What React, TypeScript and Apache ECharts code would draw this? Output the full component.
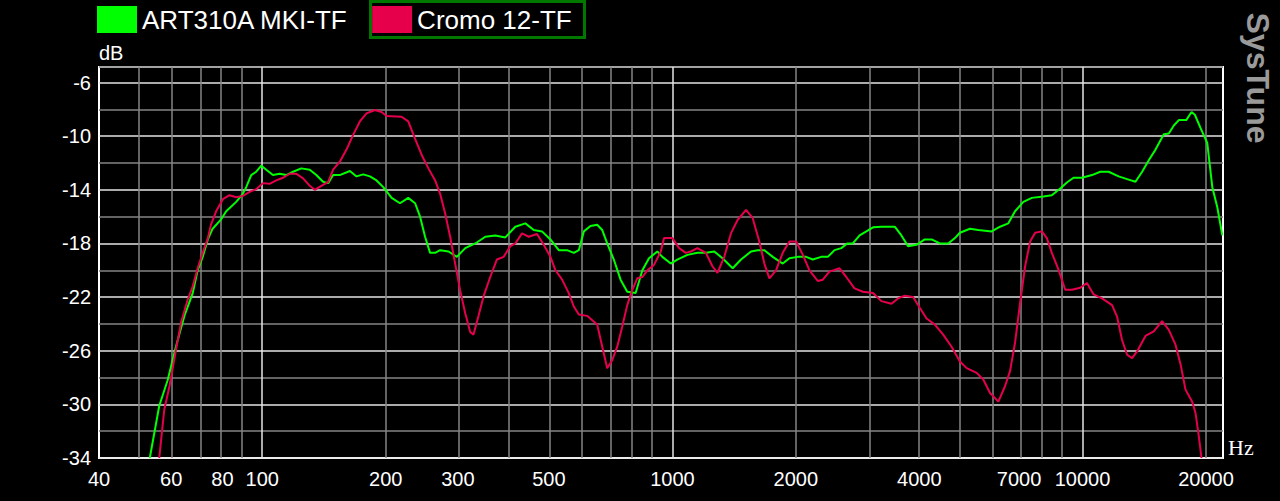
import React, { useEffect, useRef } from "react";
import * as echarts from "echarts";

const SERIES_NAMES = ["ART310A MKI-TF", "Cromo 12-TF"];
const SERIES_COLORS = ["#00ff00", "#e6004c"];

const X_TICK_LABELS = [40, 60, 80, 100, 200, 300, 500, 1000, 2000, 4000, 7000, 10000, 20000];
const MAJOR_GRID_FREQS = [100, 1000, 10000];
const MINOR_GRID_FREQS = [
  50, 60, 70, 80, 90, 200, 300, 400, 500, 600, 700, 800, 900,
  2000, 3000, 4000, 5000, 6000, 7000, 8000, 9000, 20000,
];
const Y_TICK_LABELS = [-34, -30, -26, -22, -18, -14, -10, -6];
const X_MIN_HZ = 40;
const X_MAX_HZ = 22000;
const Y_MIN_DB = -34;
const Y_MAX_DB = -4.84;

const ART_FREQ = [
  53.2, 56.1, 58.8, 61.6, 64.6, 67.7, 69.6, 71.6, 73.7, 75.7, 79.4, 81.7, 86.4, 89.7, 91.4, 94,
  96.7, 99.5, 102.3, 106.2, 110.3, 114.5, 118.9, 124.5, 130.6, 135.5, 140.7, 144.8, 148.9, 154.5,
  163.6, 169.8, 176.3, 183, 190, 197.3, 206.8, 216.7, 227, 235.9, 242.6, 249.5, 256.6, 264, 271.5,
  284.6, 298.2, 312.6, 330.6, 349.9, 369.9, 391.5, 414, 438.1, 459.2, 481, 504.3, 528.4, 553.5,
  575, 591.4, 608.3, 631.5, 655.6, 674.6, 693.5, 719.8, 747.6, 776.2, 813.6, 844.9, 877, 918.9,
  945.3, 991, 1028, 1088, 1151, 1207, 1265, 1325, 1403, 1470, 1555, 1614, 1676, 1757, 1858, 1929,
  2021, 2119, 2199, 2306, 2393, 2485, 2581, 2669, 2754, 2861, 2971, 3084, 3232, 3484, 3617, 3754,
  3936, 4125, 4284, 4488, 4705, 4884, 5023, 5316, 5569, 6003, 6293, 6592, 6846, 7173, 7521, 8027,
  8415, 8822, 9158, 9506, 9965, 10543, 11048, 11576, 12246, 12842, 13457, 13972, 14503, 15062,
  15780, 16230, 16693, 17168, 17896, 18441, 18785, 19398, 20137, 20718, 21308, 21915,
];
const ART_DB = [
  -34, -30.1, -28.2, -25.7, -23.4, -21.7, -20, -19, -17.7, -16.9, -16.2, -15.6, -14.9, -14.3, -13.8, -12.9,
  -12.65, -12.2, -12.5, -12.9, -12.8, -12.9, -12.65, -12.4, -12.5, -12.9, -13.4, -13.5, -12.9, -12.9,
  -12.6, -13, -12.85, -13, -13.3, -13.8, -14.6, -15, -14.6, -15, -16, -17.5, -18.7, -18.7, -18.5,
  -18.6, -19, -18.35, -18, -17.5, -17.4, -17.55, -16.75, -16.5, -17, -17.1, -17.7, -18.5, -18.5,
  -18.7, -18.5, -17.1, -16.7, -16.6, -17, -18, -19.2, -20.7, -21.6, -21.7, -20, -19.1, -18.6,
  -19, -19.5, -19.2, -18.85, -18.7, -18.7, -18.6, -19.1, -19.85, -19.2, -18.6, -18.5, -18.5, -19, -19.5, -19.1,
  -19, -19, -19.2, -19, -19, -18.5, -18.35, -18, -18, -17.4, -17.1, -16.8, -16.75, -16.75, -17.4, -18.2,
  -18.1, -17.7, -17.7, -18, -18, -17.6, -17.2, -16.9, -17, -17.1, -16.75, -16.5, -15.6, -14.9, -14.6, -14.5,
  -14.4, -13.9, -13.45, -13.1, -13.1, -12.9, -12.65, -12.65, -13, -13.2, -13.4, -12.65, -11.8, -11,
  -9.85, -9.8, -9.2, -8.8, -8.8, -8.2, -8.4, -9.4, -10.5, -13.8, -15.3, -17.4,
];

const CROMO_FREQ = [
  56.1, 57.7, 59.4, 61.4, 63.4, 65.8, 67.7, 69.6, 71.6, 73.7, 75, 77.2, 80.2, 83.2, 86.4, 89.7,
  93.2, 96.7, 100.4, 104.2, 108.2, 112.4, 116.7, 121.1, 125.8, 130.6, 134.3, 139.4, 144.8, 148.9,
  154.6, 160.5, 166.6, 173, 179.6, 188.3, 195.4, 201, 218.6, 227, 235.9, 244.8, 254.2, 264, 271.5,
  279.2, 287.2, 295.4, 303.8, 312.6, 321.4, 327.3, 336.8, 346.4, 359.7, 373.3, 387.8, 402.7, 414,
  429.9, 446.4, 467.7, 485.7, 504.3, 518.8, 538.4, 558.9, 575, 591.4, 619.5, 655.6, 674.6, 693.5,
  713.4, 733.7, 754.7, 776.2, 798, 821.2, 844.9, 869, 902, 936.8, 954.4, 1000, 1038.5, 1078, 1109,
  1151, 1207, 1252, 1288, 1338, 1389, 1442, 1512, 1569, 1629, 1676, 1724, 1789, 1858, 1929, 2003,
  2080, 2159, 2262, 2327, 2415, 2556, 2654, 2780, 2914, 3084, 3232, 3420, 3548, 3686, 3863, 4009,
  4166, 4365, 4573, 4794, 5023, 5218, 5519, 5728, 5949, 6233, 6471, 6658, 6846, 7042, 7244, 7451,
  7664, 7958, 8185, 8415, 8737, 9073, 9420, 9872, 10250, 10641, 11154, 11803, 12137, 12483, 12842,
  13207, 13583, 14237, 14917, 15633, 16230, 16852, 17334, 17825, 18507, 18857, 19212, 19497,
];
const CROMO_DB = [
  -34, -30.4, -28.65, -26.2, -23.9, -22.2, -21.2, -19.85, -18.7, -17.6, -16.6, -15.6, -14.7, -14.4, -14.55, -14.45,
  -14.15, -13.95, -13.5, -13.55, -13.3, -13.1, -12.8, -12.8, -13.15, -13.7, -14, -13.7, -13.4, -12.5,
  -11.9, -11, -9.9, -8.9, -8.3, -8.05, -8.2, -8.5, -8.55, -8.9, -10.2, -11.4, -12.4, -13.3, -14.3,
  -15.75, -17.5, -19.5, -21.5, -23.2, -24.6, -24.8, -23.4, -21.95, -20.5, -19.2, -19, -18.2, -18,
  -17.25, -17.5, -17.3, -18.1, -19, -20, -20.7, -21.7, -22.7, -23.3, -23.4, -24.05, -25.7, -27.3,
  -26.7, -25.7, -24.2, -22.6, -21.5, -20.6, -20.5, -20, -19.6, -18.6, -17.6, -17.6, -18.35, -18.7, -18.6,
  -18.35, -18.7, -19.7, -20.2, -19, -17.25, -16.25, -15.5, -16.1, -17.85, -19.5, -20.6, -20, -18.7, -17.85, -17.85,
  -18.85, -20, -20.8, -20.7, -20.1, -19.85, -20.5, -21.35, -21.6, -21.7, -22.3, -22.5, -22.1, -21.9, -22, -22.8,
  -23.6, -24.05, -24.8, -25.7, -26.8, -27.3, -27.65, -28.15, -29.15, -29.8, -28.65, -27.5, -25.4, -22.45, -19.7, -17.85,
  -17.2, -17.1, -17.6, -18.7, -19.95, -21.45, -21.45, -21.3, -20.95, -21.8, -22.1, -22.6, -23.45, -25.2, -26.3,
  -26.55, -26.05, -24.9, -24.55, -23.8, -24.45, -25.55, -27, -28.9, -29.8, -30.65, -32.4, -34,
];

const LABEL_FONT = "'Liberation Sans', Arial, sans-serif";

function toPoints(freqs: number[], dbs: number[]) {
  return freqs.map((f, i) => [Math.log10(f), dbs[i]]);
}

export default function App() {
  const ref = useRef<HTMLDivElement>(null);

  useEffect(() => {
    if (!ref.current) return;
    const chart = echarts.init(ref.current, null, { renderer: "svg" });

    const gridLines = [
      ...MINOR_GRID_FREQS.map((f) => ({
        xAxis: Math.log10(f),
        lineStyle: { color: "#858585", width: 1.5, type: "solid" },
      })),
      ...MAJOR_GRID_FREQS.map((f) => ({
        xAxis: Math.log10(f),
        lineStyle: { color: "#e4e4e4", width: 1.5, type: "solid" },
      })),
    ];

    const option: any = {
      animation: false,
      backgroundColor: "#000000",
      grid: {
        left: 99,
        right: 57,
        top: 67,
        bottom: 43,
        show: true,
        borderColor: "#ffffff",
        borderWidth: 2,
        backgroundColor: "transparent",
      },
      legend: {
        data: SERIES_NAMES,
        left: 97,
        top: 6,
        padding: 0,
        itemWidth: 40,
        itemHeight: 27,
        itemGap: 24,
        icon: "rect",
        selectedMode: false,
        textStyle: { color: "#ffffff", fontSize: 26, fontFamily: LABEL_FONT },
      },
      xAxis: {
        type: "value",
        min: Math.log10(X_MIN_HZ),
        max: Math.log10(X_MAX_HZ),
        name: "Hz",
        nameLocation: "end",
        nameGap: 5,
        nameTextStyle: {
          color: "#ffffff",
          fontSize: 22,
          fontFamily: "'Liberation Serif', serif",
          verticalAlign: "bottom",
          align: "left",
        },
        axisLine: { show: false },
        axisTick: { show: false },
        splitLine: { show: false },
        axisLabel: {
          customValues: X_TICK_LABELS.map((v) => Math.log10(v)),
          formatter: (v: number) => String(Math.round(Math.pow(10, v))),
          color: "#ffffff",
          fontSize: 20,
          fontFamily: LABEL_FONT,
          margin: 11,
        },
      },
      yAxis: {
        type: "value",
        min: Y_MIN_DB,
        max: Y_MAX_DB,
        interval: 2,
        name: "dB",
        nameLocation: "end",
        nameGap: 4,
        nameTextStyle: {
          color: "#ffffff",
          fontSize: 20,
          fontFamily: LABEL_FONT,
          align: "left",
          verticalAlign: "bottom",
        },
        axisLine: { show: false },
        axisTick: { show: false },
        splitLine: {
          show: true,
          lineStyle: { color: ["#e4e4e4", "#858585"], width: 1.5 },
        },
        axisLabel: {
          formatter: (v: number) => {
            const k = Math.round(v);
            if (Math.abs(v - k) > 0.01) return "";
            return Y_TICK_LABELS.indexOf(k) >= 0 ? String(k) : "";
          },
          color: "#ffffff",
          fontSize: 20,
          fontFamily: LABEL_FONT,
          margin: 8,
        },
      },
      series: [
        {
          type: "line",
          name: "grid",
          data: [],
          z: 1,
          silent: true,
          markLine: {
            silent: true,
            z: 1,
            symbol: ["none", "none"],
            label: { show: false },
            emphasis: { disabled: true },
            data: gridLines,
          },
        },
        {
          type: "line",
          name: SERIES_NAMES[0],
          data: toPoints(ART_FREQ, ART_DB),
          showSymbol: false,
          color: SERIES_COLORS[0],
          lineStyle: { color: SERIES_COLORS[0], width: 2 },
          itemStyle: { color: SERIES_COLORS[0] },
          z: 3,
          clip: true,
        },
        {
          type: "line",
          name: SERIES_NAMES[1],
          data: toPoints(CROMO_FREQ, CROMO_DB),
          showSymbol: false,
          color: SERIES_COLORS[1],
          lineStyle: { color: SERIES_COLORS[1], width: 2 },
          itemStyle: { color: SERIES_COLORS[1] },
          z: 4,
          clip: true,
        },
      ],
      graphic: [
        {
          type: "rect",
          shape: { x: 370.5, y: 1.5, width: 214, height: 36 },
          style: { fill: "none", stroke: "#007800", lineWidth: 3 },
          silent: true,
        },
        {
          type: "text",
          x: 1258,
          y: 78,
          rotation: -Math.PI / 2,
          style: {
            text: "SysTune",
            fill: "#9a9a9a",
            font: "bold 32px 'Liberation Sans', Arial, sans-serif",
            textAlign: "center",
            textVerticalAlign: "middle",
          },
          silent: true,
        },
      ],
    };

    chart.setOption(option);
    return () => {
      chart.dispose();
    };
  }, []);

  return (
    <div
      ref={ref}
      style={{ position: "absolute", left: 0, top: 0, width: 1280, height: 501 }}
    />
  );
}
